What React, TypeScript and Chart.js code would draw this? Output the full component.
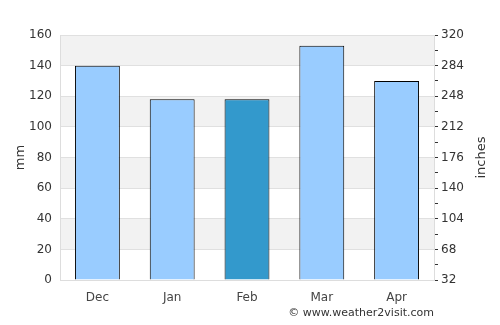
import React, { useEffect, useRef } from "react";
import { Chart, registerables } from "chart.js";

Chart.register(...registerables);

const categories = ["Dec", "Jan", "Feb", "Mar", "Apr"];
const rainfallMm = [140, 118, 118, 153, 130];
const highlightIndex = 2;
const leftTicks = { min: 0, max: 160, step: 20 };
const rightTicks = { min: 32, max: 320, step: 18, labelStep: 36 };
const footerText = "© www.weather2visit.com";
const rightTitle = "inches";

const bandsPlugin = {
  id: "bands",
  beforeDraw(chart: any) {
    const { ctx, chartArea } = chart;
    const y = chart.scales.y;
    ctx.save();
    ctx.fillStyle = "#f2f2f2";
    for (let v = leftTicks.min + leftTicks.step; v < leftTicks.max; v += leftTicks.step * 2) {
      const top = y.getPixelForValue(v + leftTicks.step);
      const bottom = y.getPixelForValue(v);
      ctx.fillRect(chartArea.left, top, chartArea.right - chartArea.left, bottom - top);
    }
    ctx.restore();
  },
  afterDraw(chart: any) {
    const { ctx, chartArea } = chart;
    ctx.save();
    ctx.font = "11px 'DejaVu Sans'";
    ctx.fillStyle = "#333";
    ctx.textAlign = "right";
    ctx.textBaseline = "middle";
    ctx.fillText(footerText, chartArea.right, 313);
    ctx.restore();
    ctx.save();
    ctx.font = "13px 'DejaVu Sans'";
    ctx.fillStyle = "#333";
    ctx.textAlign = "center";
    ctx.textBaseline = "middle";
    ctx.translate(482, (chartArea.top + chartArea.bottom) / 2);
    ctx.rotate(-Math.PI / 2);
    ctx.fillText(rightTitle, 0, 0);
    ctx.restore();
  },
};

export default function App() {
  const ref = useRef<HTMLCanvasElement>(null);
  useEffect(() => {
    document.body.style.margin = "0";
    const chart = new Chart(ref.current!, {
      type: "bar",
      data: {
        labels: categories,
        datasets: [
          {
            data: rainfallMm,
            backgroundColor: rainfallMm.map((_, i) => (i === highlightIndex ? "#3399cc" : "#99ccff")),
            borderColor: "#000",
            borderWidth: 1,
            barPercentage: 0.6,
            categoryPercentage: 1,
            yAxisID: "y",
          },
        ],
      },
      options: {
        animation: false,
        responsive: false,
        maintainAspectRatio: false,
        layout: { padding: { top: 35, left: 0, right: 0, bottom: 0 } },
        plugins: { legend: { display: false }, tooltip: { enabled: false } },
        scales: {
          x: {
            grid: { display: false },
            border: { display: true, color: "#dddddd" },
            ticks: { color: "#444", font: { family: "DejaVu Sans", size: 12 }, padding: 3 },
            afterFit: (s: any) => { s.height = 45; },
          },
          y: {
            position: "left",
            min: leftTicks.min,
            max: leftTicks.max,
            ticks: { stepSize: leftTicks.step, color: "#333", font: { family: "DejaVu Sans", size: 12 }, padding: 8 },
            grid: { color: "#e0e0e0", drawTicks: false },
            border: { display: true, color: "#dddddd" },
            title: { display: true, text: "mm", color: "#333", font: { family: "DejaVu Sans", size: 13 }, padding: { top: 13, bottom: 0 } },
            afterFit: (s: any) => { s.width = 60; },
          },
          y2: {
            position: "right",
            min: rightTicks.min,
            max: rightTicks.max,
            ticks: {
              stepSize: rightTicks.step,
              autoSkip: false,
              color: "#333",
              font: { family: "DejaVu Sans", size: 12 },
              padding: 3,
              callback: (v: any) => ((Number(v) - rightTicks.min) % rightTicks.labelStep === 0 ? String(v) : ""),
            },
            grid: { drawOnChartArea: false, drawTicks: true, tickLength: 4, tickColor: "#333" },
            border: { display: true, color: "#dddddd" },
            afterFit: (s: any) => { s.width = 66; },
          },
        },
      },
      plugins: [bandsPlugin],
    });
    return () => chart.destroy();
  }, []);
  return <canvas ref={ref} width={500} height={325} style={{ display: "block" }} />;
}
